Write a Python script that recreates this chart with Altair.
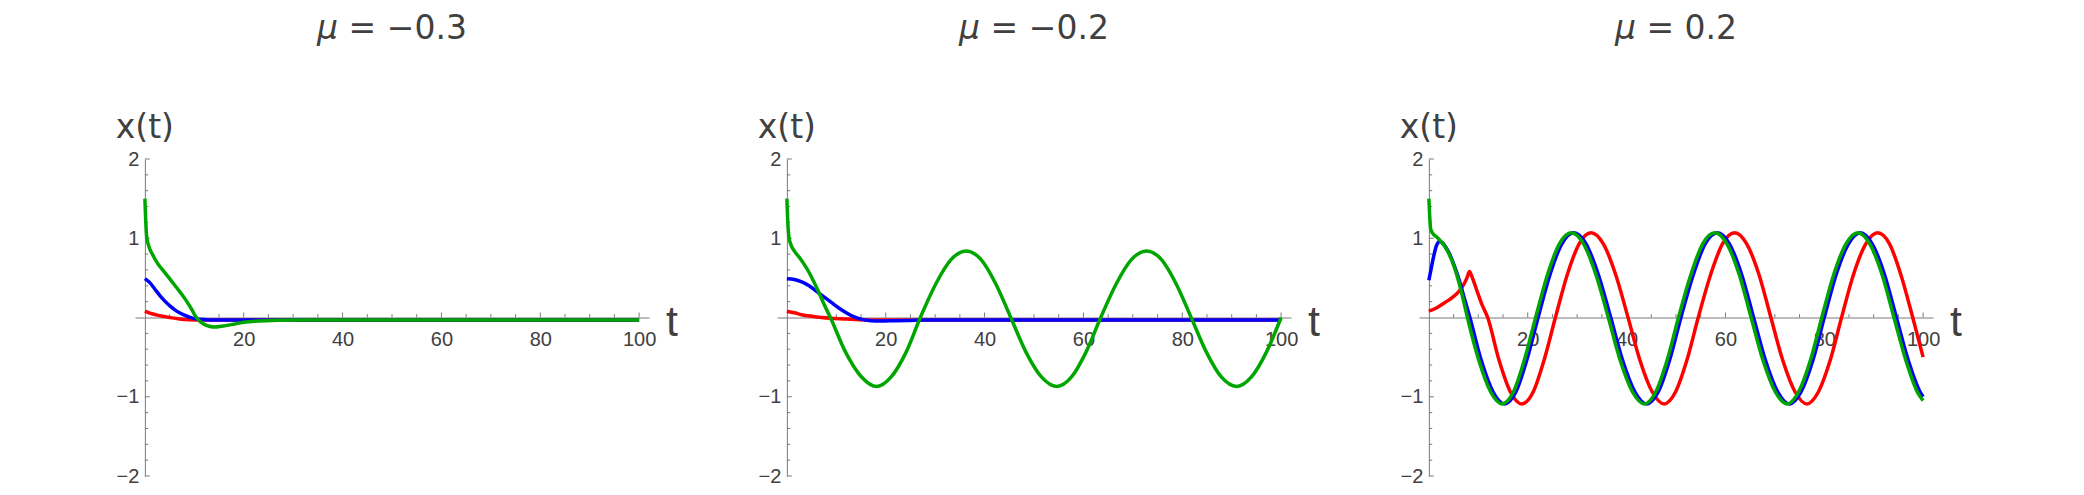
import altair as alt
import pandas as pd

# ---------------- text / tick values ----------------
TITLE_SYMBOL = "μ"
TITLE_VALUES = ["= −0.3", "= −0.2", "= 0.2"]
Y_LABEL = ["x(t)"]
X_LABEL = ["t"]
X_TICKS_MAJOR = [20, 40, 60, 80, 100]
X_TICKS_MINOR = [5, 10, 15, 25, 30, 35, 45, 50, 55, 65, 70, 75, 85, 90, 95]
Y_TICKS_MAJOR = [-2, -1, 1, 2]
Y_TICKS_MINOR = [-1.8, -1.6, -1.4, -1.2, -0.8, -0.6, -0.4, -0.2,
                 0.2, 0.4, 0.6, 0.8, 1.2, 1.4, 1.6, 1.8]

# ---------------- panel 1 : mu = -0.3 ----------------
P1_RED_T = [0, 1, 2.5, 4, 5.5, 7, 9, 12, 20, 40, 70, 100]
P1_RED_X = [0.08, 0.055, 0.03, 0.012, -0.005, -0.018, -0.027, -0.03, -0.03, -0.03, -0.03, -0.03]
P1_BLUE_T = [0, 1, 2, 3, 4, 5, 6, 7, 8, 9, 10.5, 13, 20, 40, 70, 100]
P1_BLUE_X = [0.49, 0.44, 0.36, 0.28, 0.21, 0.15, 0.1, 0.06, 0.03, 0.005, -0.02, -0.03, -0.03, -0.03, -0.03, -0.03]
P1_GREEN_T = [0, 0.15, 0.35, 0.7, 1.5, 2.6, 4, 5.5, 7, 8.4, 9.5, 10.2, 11, 11.8, 13, 14.2,
              15.5, 17.5, 20, 23, 27, 32, 40, 70, 100]
P1_GREEN_X = [1.5, 1.25, 1.03, 0.92, 0.8, 0.68, 0.57, 0.45, 0.33, 0.21, 0.1, 0.02, -0.04, -0.08,
              -0.11, -0.12, -0.11, -0.09, -0.06, -0.045, -0.035, -0.03, -0.03, -0.03, -0.03]

# ---------------- panel 2 : mu = -0.2 ----------------
P2_RED_T = [0, 1.5, 3, 5, 7, 9, 12, 16, 25, 50, 100]
P2_RED_X = [0.08, 0.06, 0.035, 0.015, 0.0, -0.01, -0.02, -0.03, -0.03, -0.03, -0.03]
P2_BLUE_T = [0, 1.5, 3, 4.5, 6, 7.5, 9, 10.5, 12, 13.5, 15, 17, 19, 22, 26, 30, 50, 75, 100]
P2_BLUE_X = [0.49, 0.48, 0.45, 0.4, 0.33, 0.26, 0.19, 0.12, 0.06, 0.01, -0.02, -0.04, -0.045,
             -0.04, -0.035, -0.03, -0.03, -0.03, -0.03]
P2_GREEN_T = [0, 0.15, 0.4, 0.8, 1.5, 2.5, 3.4, 4.3, 5.3, 6.3, 7.5, 8.8,
              11.9, 15.1, 18.2, 21.1, 24.1, 27.0, 30.1, 33.2, 36.3, 39.3, 42.3, 45.3,
              48.4, 51.5, 54.6, 57.6, 60.5, 63.5, 66.6, 69.7, 72.8, 75.8, 78.8, 81.8,
              84.9, 87.9, 91.0, 94.0, 97.0, 100]
P2_GREEN_X = [1.5, 1.25, 1.02, 0.92, 0.84, 0.76, 0.68, 0.59, 0.47, 0.34, 0.17, 0.0,
              -0.44, -0.75, -0.87, -0.75, -0.44, 0.0, 0.42, 0.73, 0.84, 0.73, 0.42, 0.0,
              -0.44, -0.75, -0.87, -0.75, -0.44, 0.0, 0.42, 0.73, 0.84, 0.73, 0.42, 0.0,
              -0.44, -0.75, -0.87, -0.75, -0.44, 0.0]

# ---------------- panel 3 : mu = 0.2 ----------------
P3_RED_T = [0, 1.5, 2.8, 4, 5.3, 6.2, 7.0, 7.7, 8.2, 8.8, 9.6, 10.7, 11.9,
            14.2, 16.5, 18.8, 21.1, 23.3, 25.6, 28.0, 30.4, 32.8, 35.3, 37.8, 40.3,
            42.7, 45.2, 47.6, 49.9, 52.2, 54.5, 57.0, 59.4, 61.9, 64.3, 66.8, 69.2,
            71.6, 74.1, 76.5, 78.8, 81.2, 83.5, 85.9, 88.4, 90.8, 93.2, 95.5, 97.9, 100]
P3_RED_X = [0.08, 0.12, 0.17, 0.22, 0.28, 0.34, 0.41, 0.5, 0.58, 0.5, 0.36, 0.17, 0.0,
            -0.54, -0.94, -1.09, -0.94, -0.54, 0.0, 0.54, 0.93, 1.07, 0.93, 0.54, 0.0,
            -0.54, -0.94, -1.09, -0.94, -0.54, 0.0, 0.54, 0.93, 1.07, 0.93, 0.54, 0.0,
            -0.54, -0.94, -1.09, -0.94, -0.54, 0.0, 0.54, 0.93, 1.07, 0.93, 0.54, 0.0, -0.5]
P3_BLUE_T = [0, 0.5, 1.0, 1.5, 2.1, 2.6, 3.3, 4.2, 5.1, 6.1, 7.1, 8.3,
             10.6, 13.0, 15.3, 17.6, 19.8, 22.1, 24.5, 26.9, 29.3, 31.8, 34.3, 36.8,
             39.2, 41.7, 44.1, 46.4, 48.7, 51.0, 53.5, 55.9, 58.4, 60.8, 63.3, 65.7,
             68.1, 70.6, 73.0, 75.3, 77.7, 80.0, 82.4, 84.9, 87.3, 89.7, 92.2, 94.6,
             97.0, 99.4, 100]
P3_BLUE_X = [0.47, 0.63, 0.78, 0.9, 0.96, 0.95, 0.9, 0.8, 0.66, 0.48, 0.26, 0.0,
             -0.54, -0.94, -1.09, -0.94, -0.54, 0.0, 0.54, 0.93, 1.07, 0.93, 0.54, 0.0,
             -0.54, -0.94, -1.09, -0.94, -0.54, 0.0, 0.54, 0.93, 1.07, 0.93, 0.54, 0.0,
             -0.54, -0.94, -1.09, -0.94, -0.54, 0.0, 0.54, 0.93, 1.07, 0.93, 0.54, 0.0,
             -0.54, -0.94, -1.0]
P3_GREEN_T = [0, 0.15, 0.35, 0.8, 1.5, 2.3, 3.2, 4.0, 5.0, 6.0, 6.9, 7.8,
              10.1, 12.5, 14.8, 17.1, 19.3, 21.6, 24.0, 26.4, 28.8, 31.3, 33.8, 36.3,
              38.7, 41.2, 43.6, 45.9, 48.2, 50.5, 53.0, 55.4, 57.9, 60.3, 62.8, 65.2,
              67.6, 70.1, 72.5, 74.8, 77.2, 79.5, 81.9, 84.4, 86.8, 89.2, 91.7, 94.1,
              96.5, 98.9, 100]
P3_GREEN_X = [1.5, 1.3, 1.12, 1.06, 1.02, 0.97, 0.9, 0.81, 0.66, 0.46, 0.24, 0.0,
              -0.54, -0.94, -1.09, -0.94, -0.54, 0.0, 0.54, 0.93, 1.07, 0.93, 0.54, 0.0,
              -0.54, -0.94, -1.09, -0.94, -0.54, 0.0, 0.54, 0.93, 1.07, 0.93, 0.54, 0.0,
              -0.54, -0.94, -1.09, -0.94, -0.54, 0.0, 0.54, 0.93, 1.07, 0.93, 0.54, 0.0,
              -0.54, -0.95, -1.05]

# ---------------- style ----------------
W, H = 514, 317
RED, BLUE, GREEN = "#ff0000", "#0000ff", "#00a600"
AXC = "#7a7a7a"
TXT = "#404040"
LW = 3.5
TITLE_FS = 33
# approximate DejaVu Sans advance widths (em) used to centre the two-part title
EM = {"μ": 0.636, " ": 0.318, "=": 0.838, "−": 0.838, ".": 0.318,
      "0": 0.636, "1": 0.636, "2": 0.636, "3": 0.636}
XS = alt.Scale(domain=[-2, 102], nice=False, zero=False)
YS = alt.Scale(domain=[-2, 2], nice=False, zero=False)

X_AXIS = alt.Axis(orient="bottom", offset=-H / 2, values=X_TICKS_MAJOR, ticks=False, grid=False,
                  domainColor=AXC, domainWidth=1, labelFont="Liberation Sans", labelFontSize=20,
                  labelColor=TXT, labelPadding=12, labelFlush=False, labelOverlap=False, title=None)
Y_AXIS = alt.Axis(orient="left", offset=-2 / 104 * W, values=Y_TICKS_MAJOR, ticks=False, grid=False,
                  domainColor=AXC, domainWidth=1, labelFont="Liberation Sans", labelFontSize=20,
                  labelColor=TXT, labelPadding=6, labelFlush=False, labelOverlap=False, title=None)


def xtick_layer(vals, length):
    return alt.Chart(pd.DataFrame({"v": vals})).mark_rule(color=AXC, strokeWidth=1).encode(
        x=alt.X("v:Q", scale=XS, axis=X_AXIS),
        y=alt.YDatum(0, scale=YS, axis=Y_AXIS),
        y2=alt.datum(length),
    )


def ytick_layer(vals, length):
    return alt.Chart(pd.DataFrame({"v": vals})).mark_rule(color=AXC, strokeWidth=1).encode(
        y=alt.Y("v:Q", scale=YS, axis=Y_AXIS),
        x=alt.XDatum(0, scale=XS, axis=X_AXIS),
        x2=alt.datum(length),
    )


def line_layer(ts, xs, color):
    return alt.Chart(pd.DataFrame({"t": ts, "x": xs})).mark_line(
        color=color, strokeWidth=LW, interpolate="monotone").encode(
        x=alt.X("t:Q", scale=XS, axis=X_AXIS),
        y=alt.Y("x:Q", scale=YS, axis=Y_AXIS),
        order="t:Q",
    )


def text_layer(label, xd, yd, **kw):
    return alt.Chart(pd.DataFrame({"s": [label]})).mark_text(**kw).encode(
        x=alt.XDatum(xd, scale=XS, axis=X_AXIS),
        y=alt.YDatum(yd, scale=YS, axis=Y_AXIS),
        text="s:N",
    )


def title_layers(rest):
    sym_w = EM[TITLE_SYMBOL] * TITLE_FS
    gap = EM[" "] * TITLE_FS
    rest_w = sum(EM.get(c, 0.6) for c in rest) * TITLE_FS
    left = -(sym_w + gap + rest_w) / 2
    common = dict(font="DejaVu Sans", fontSize=TITLE_FS, color=TXT, align="left",
                  baseline="alphabetic", dy=-120)
    return [
        text_layer(TITLE_SYMBOL, 50, 2, fontStyle="italic", dx=left, **common),
        text_layer(rest, 50, 2, dx=left + sym_w + gap, **common),
    ]


def panel(rest, red, blue, green):
    layers = [
        xtick_layer(X_TICKS_MAJOR, 0.063),
        xtick_layer(X_TICKS_MINOR, 0.042),
        ytick_layer(Y_TICKS_MAJOR, 1.0),
        ytick_layer(Y_TICKS_MINOR, 0.67),
        line_layer(red[0], red[1], RED),
        line_layer(blue[0], blue[1], BLUE),
        line_layer(green[0], green[1], GREEN),
        *title_layers(rest),
        text_layer(Y_LABEL[0], 0, 2, font="DejaVu Sans", fontSize=33, color=TXT,
                   align="center", baseline="alphabetic", dy=-21),
        text_layer(X_LABEL[0], 102, 0, font="Liberation Sans", fontSize=43, color=TXT,
                   align="left", baseline="alphabetic", dx=17, dy=18),
    ]
    return alt.layer(*layers).properties(width=W, height=H)


p1 = panel(TITLE_VALUES[0], (P1_RED_T, P1_RED_X), (P1_BLUE_T, P1_BLUE_X), (P1_GREEN_T, P1_GREEN_X))
p2 = panel(TITLE_VALUES[1], (P2_RED_T, P2_RED_X), (P2_BLUE_T, P2_BLUE_X), (P2_GREEN_T, P2_GREEN_X))
p3 = panel(TITLE_VALUES[2], (P3_RED_T, P3_RED_X), (P3_BLUE_T, P3_BLUE_X), (P3_GREEN_T, P3_GREEN_X))

chart = alt.hconcat(p1, p2, p3, spacing=128, bounds="flush").properties(
    padding={"left": 107, "top": 5, "right": 5, "bottom": 5},
    background="white",
).configure_view(stroke=None)

chart.save("out.html", embed_options={"renderer": "svg", "actions": False})
